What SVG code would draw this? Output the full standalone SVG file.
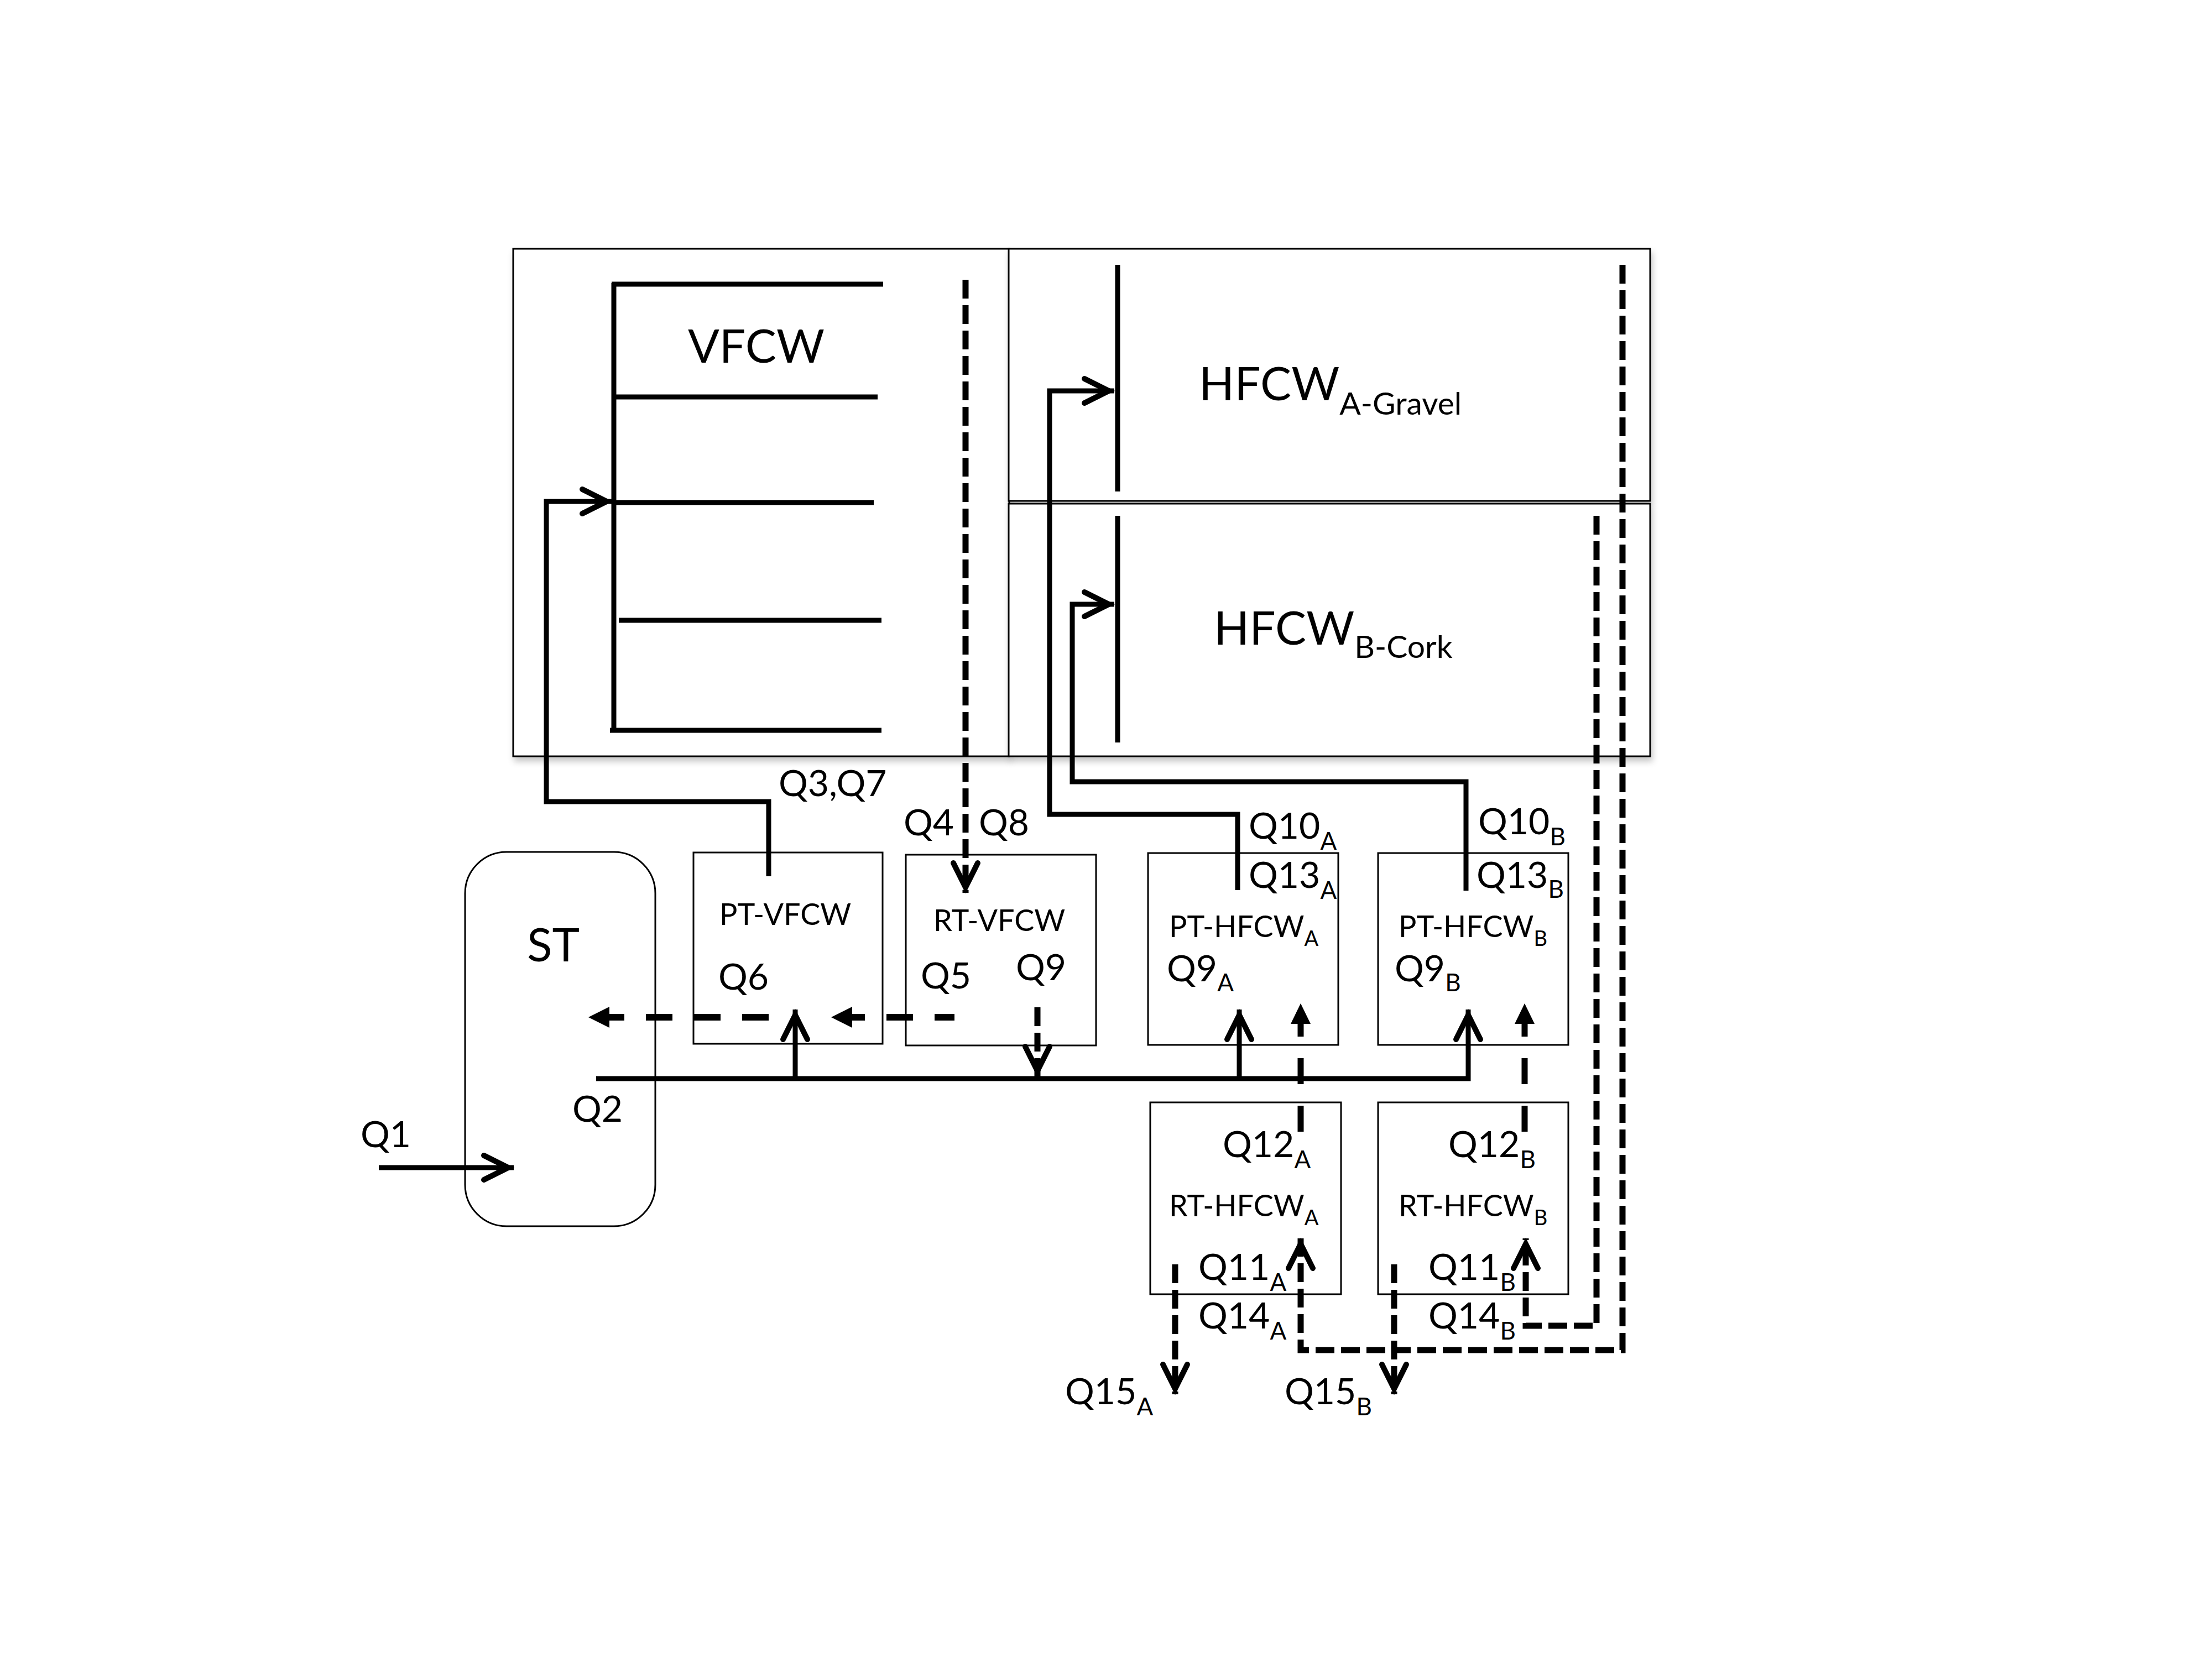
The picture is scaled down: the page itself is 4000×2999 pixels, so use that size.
<svg xmlns="http://www.w3.org/2000/svg" width="4000" height="2999" viewBox="0 0 4000 2999">
<defs>
<style>
.box{fill:#fff;stroke:#000;stroke-width:3}
.ln{fill:none;stroke:#000;stroke-width:9;stroke-linejoin:miter;stroke-linecap:butt}
.ds{fill:none;stroke:#000;stroke-width:11;stroke-dasharray:34 12}
.ds2{fill:none;stroke:#000;stroke-width:12;stroke-dasharray:48 39}
.hd{fill:#000;stroke:none}
text{font-family:Lato,"Open Sans","Liberation Sans",sans-serif;fill:#000}
.q{font-size:66px}
.s{font-size:44px}
.lb{font-size:54px}
.ls{font-size:38px}
.big{font-size:84px}
.bs{font-size:57px}
</style>
<filter id="sh" x="-5%" y="-5%" width="115%" height="115%">
<feDropShadow dx="3" dy="8" stdDeviation="6" flood-color="#000" flood-opacity="0.22"/>
</filter>
<marker id="ch" markerUnits="userSpaceOnUse" viewBox="-70 -40 80 80" refX="0" refY="0" markerWidth="80" markerHeight="80" orient="auto">
<path d="M-54,-22 L-10,0 L-54,22" fill="none" stroke="#000" stroke-width="10" stroke-linecap="round" stroke-linejoin="miter"/>
</marker>
</defs>
<rect width="4000" height="2999" fill="#fff"/>

<g id="VFCW">
<rect class="box" x="928" y="450" width="897" height="918" filter="url(#sh)"/>
<path class="ln" d="M1110,512 V1321 M1106,514 H1597 M1110,718 H1587 M1110,909 H1580 M1119,1122 H1594 M1103,1321 H1594"/>
<text class="big" x="1244" y="656">VFCW</text>
</g>

<g id="HFCW_A">
<rect class="box" x="1824" y="450" width="1160" height="456" filter="url(#sh)"/>
<path class="ln" d="M2021,479 V889"/>
<text class="big" x="2168" y="724">HFCW<tspan class="bs" dy="26">A-Gravel</tspan></text>
</g>

<g id="HFCW_B">
<rect class="box" x="1824" y="911" width="1160" height="457" filter="url(#sh)"/>
<path class="ln" d="M2021,933 V1343"/>
<text class="big" x="2195" y="1166">HFCW<tspan class="bs" dy="24">B-Cork</tspan></text>
</g>

<g id="ST">
<rect class="box" x="841" y="1541" width="344" height="677" rx="75" ry="75"/>
<text class="big" x="953" y="1739">ST</text>
</g>

<g id="PT-VFCW">
<rect class="box" x="1254" y="1542" width="342" height="346"/>
<text class="lb" x="1301" y="1673">PT-VFCW</text>
<text class="q" x="1299" y="1790">Q6</text>
</g>

<g id="RT-VFCW">
<rect class="box" x="1638" y="1546" width="344" height="345"/>
<text class="lb" x="1688" y="1684">RT-VFCW</text>
<text class="q" x="1665" y="1788">Q5</text>
<text class="q" x="1837" y="1773">Q9</text>
</g>

<g id="PT-HFCW_A">
<rect class="box" x="2076" y="1543" width="344" height="347"/>
<text class="lb" x="2114" y="1695">PT-HFCW<tspan class="ls" dy="16">A</tspan></text>
<text class="q" x="2110" y="1775">Q9<tspan class="s" dy="18">A</tspan></text>
</g>

<g id="PT-HFCW_B">
<rect class="box" x="2492" y="1543" width="344" height="347"/>
<text class="lb" x="2529" y="1695">PT-HFCW<tspan class="ls" dy="16">B</tspan></text>
<text class="q" x="2522" y="1775">Q9<tspan class="s" dy="18">B</tspan></text>
</g>

<g id="RT-HFCW_A">
<rect class="box" x="2080" y="1994" width="345" height="347"/>
<text class="q" x="2211" y="2093">Q12<tspan class="s" dy="20">A</tspan></text>
<text class="lb" x="2114" y="2200">RT-HFCW<tspan class="ls" dy="16">A</tspan></text>
<text class="q" x="2167" y="2315">Q11<tspan class="s" dy="20">A</tspan></text>
</g>

<g id="RT-HFCW_B">
<rect class="box" x="2492" y="1994" width="344" height="347"/>
<text class="q" x="2619" y="2093">Q12<tspan class="s" dy="20">B</tspan></text>
<text class="lb" x="2529" y="2200">RT-HFCW<tspan class="ls" dy="16">B</tspan></text>
<text class="q" x="2583" y="2315">Q11<tspan class="s" dy="20">B</tspan></text>
</g>

<g id="connectors">
<path class="ln" d="M685,2112 H929" marker-end="url(#ch)"/>
<path class="ln" d="M1078,1951 H2655 V1826" marker-end="url(#ch)"/>
<path class="ln" d="M1438,1951 V1826" marker-end="url(#ch)"/>
<path class="ln" d="M2241,1951 V1826" marker-end="url(#ch)"/>
<path class="ln" d="M1390,1585 V1450 H988 V907 H1107" marker-end="url(#ch)"/>
<path class="ln" d="M2238,1610 V1473 H1898 V707 H2015" marker-end="url(#ch)"/>
<path class="ln" d="M2651,1611 V1414 H1939 V1093 H2015" marker-end="url(#ch)"/>
<path class="ds" d="M1746,506 V1615" marker-end="url(#ch)"/>
<path class="ds" d="M1876,1822 V1947" marker-end="url(#ch)"/>
<path class="ds" d="M2934,479 V2442 H2352 V2240" marker-end="url(#ch)"/>
<path class="ds" d="M2887,933 V2398 H2759 V2240" marker-end="url(#ch)"/>
<path class="ds" d="M2125,2287 V2522" marker-end="url(#ch)"/>
<path class="ds" d="M2521,2287 V2522" marker-end="url(#ch)"/>
<path class="ds2" d="M1726,1840 H1539" stroke-dashoffset="12"/>
<polygon class="hd" points="1503,1840 1541,1821 1541,1859"/>
<path class="ds2" d="M1390,1840 H1100"/>
<polygon class="hd" points="1064,1840 1102,1821 1102,1859"/>
<path class="ds2" d="M2352,2047 V1850" style="stroke-width:11;stroke-dasharray:47 39"/>
<polygon class="hd" points="2352,1815 2334,1852 2370,1852"/>
<path class="ds2" d="M2757,2047 V1850" style="stroke-width:11;stroke-dasharray:47 39"/>
<polygon class="hd" points="2757,1815 2739,1852 2775,1852"/>
</g>

<g id="labels">
<text class="q" x="652" y="2075">Q1</text>
<text class="q" x="1035" y="2029">Q2</text>
<text class="q" x="1408" y="1440">Q3,Q7</text>
<text class="q" x="1634" y="1511">Q4</text>
<text class="q" x="1770" y="1511">Q8</text>
<text class="q" x="2258" y="1517">Q10<tspan class="s" dy="20">A</tspan></text>
<text class="q" x="2258" y="1606">Q13<tspan class="s" dy="20">A</tspan></text>
<text class="q" x="2673" y="1509">Q10<tspan class="s" dy="20">B</tspan></text>
<text class="q" x="2670" y="1606">Q13<tspan class="s" dy="18">B</tspan></text>
<text class="q" x="2167" y="2403">Q14<tspan class="s" dy="20">A</tspan></text>
<text class="q" x="2583" y="2403">Q14<tspan class="s" dy="20">B</tspan></text>
<text class="q" x="1926" y="2540">Q15<tspan class="s" dy="20">A</tspan></text>
<text class="q" x="2323" y="2540">Q15<tspan class="s" dy="20">B</tspan></text>
</g>
</svg>
